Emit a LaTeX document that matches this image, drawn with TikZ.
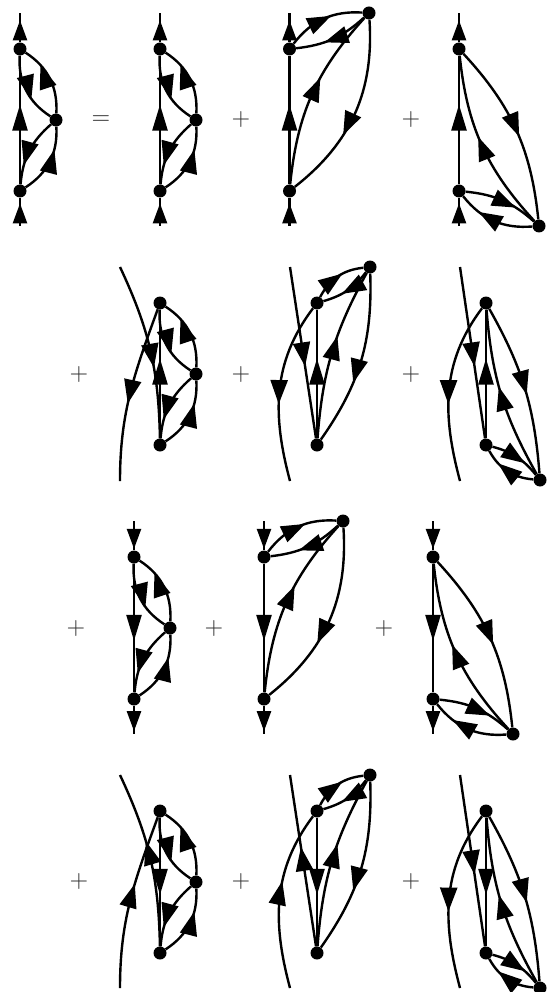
\documentclass[tikz,border=0pt]{standalone}
\usetikzlibrary{arrows.meta,decorations.markings}

\tikzset{
  vertex/.style={circle,fill=black,inner sep=0pt,minimum size=13pt},
  prop/.style={line width=2.4pt},
  turnarr/.style 2 args={postaction={decorate,decoration={markings,mark=at position #1 with {\pgftransformrotate{#2}\arrow{Triangle[length=24pt,width=17pt]}}}}},
  arr/.style={turnarr={#1}{0}},
  bigarr/.style={postaction={decorate,decoration={markings,mark=at position #1 with {\arrow{Triangle[length=26pt,width=15pt]}}}}},
  legarr/.style={postaction={decorate,decoration={markings,mark=at position #1 with {\arrow{Triangle[length=20pt,width=14pt]}}}}},
  sign/.style={scale=2.4,text=black!80}
}

% third vertex at the side
\newcommand{\graphside}[2]{
\node[vertex] (t) at (#1,-#2) {};
\node[vertex] (b) at (#1,-#2-142) {};
\node[vertex] (v) at (#1+36,-#2-71) {};
\draw[prop,turnarr={.64}{-22}] (t) to[bend right=30] (v);
\draw[prop,turnarr={.73}{-24}] (v) to[bend right=30] (t);
\draw[prop,arr=.72] (v) to[bend right=22] (b);
\draw[prop,arr=.68] (b) to[bend right=30] (v);
}
% third vertex above
\newcommand{\graphtop}[3]{
\node[vertex] (t) at (#1,-#2) {};
\node[vertex] (b) at (#1,-#2-142) {};
\node[vertex] (v) at (#1+#3,-#2+36) {};
\draw[prop,turnarr={.6}{8}] (t) to[bend left=28] (v);
\draw[prop,arr=.62] (v) to[bend left=18] (t);
\draw[prop,turnarr={.6}{5}] (b) to[bend left={#3*.23}] (v);
\draw[prop,turnarr={.63}{8}] (v) to[bend left={#3*.35}] (b);
}
% third vertex below
\newcommand{\graphbottom}[3]{
\node[vertex] (t) at (#1,-#2) {};
\node[vertex] (b) at (#1,-#2-142) {};
\node[vertex] (v) at (#1+#3,-#2-177) {};
\draw[prop,arr=.54] (t) to[bend left={#3*.23}] (v);
\draw[prop,arr=.55] (v) to[bend left={#3*.23}] (t);
\draw[prop,turnarr={.7}{8}] (b) to[bend left=18] (v);
\draw[prop,turnarr={.72}{8}] (v) to[bend left=28] (b);
}
% vertical line
\newcommand{\lineup}{\draw[prop,bigarr=.62] (b) -- (t);}
\newcommand{\linedown}{\draw[prop,bigarr=.6] (t) -- (b);}
% straight external line
\newcommand{\legsup}[2]{
\coordinate (in) at (#1,-#2-177);
\coordinate (out) at (#1,-#2+36);
\draw[prop,legarr=.8] (in) -- (b);
\draw[prop,legarr=.75] (t) -- (out);
}
\newcommand{\legsdown}[2]{
\coordinate (in) at (#1,-#2+36);
\coordinate (out) at (#1,-#2-177);
\draw[prop,legarr=.95] (in) -- (t);
\draw[prop,legarr=.9] (b) -- (out);
}

\begin{document}
\begin{tikzpicture}[x=1pt,y=1pt]
\useasboundingbox (0,-992) rectangle (548,0);

% first row
\graphside{20}{49} \lineup \legsup{20}{49}
\node[sign] (eq) at (101,-120) {$=$};
\graphside{160}{49} \lineup \legsup{160}{49}
\node[sign] (p1) at (241,-120) {$+$};
\graphtop{289.5}{49}{79.5} \lineup \legsup{289.5}{49}
\node[sign] (p2) at (411,-120) {$+$};
\graphbottom{459}{49}{80} \lineup \legsup{459}{49}

% second row
\node[sign] (p3) at (79,-374) {$+$};
\graphside{160}{303} \lineup
\coordinate (in) at (120,-267);
\coordinate (out) at (120,-481);
\draw[prop,arr=.6] (in) to[bend left=12] (b);
\draw[prop,arr=.56] (t) to[out=250,in=90] (out);
\node[sign] (p4) at (241,-374) {$+$};
\graphtop{317}{303}{53} \lineup
\coordinate (in) at (290,-267);
\coordinate (out) at (290,-481);
\draw[prop,arr=.58] (in) -- (b);
\draw[prop,arr=.57] (t) to[out=233,in=105] (out);
\node[sign] (p5) at (411,-374) {$+$};
\graphbottom{486}{303}{54} \lineup
\coordinate (in) at (460,-267);
\coordinate (out) at (460,-481);
\draw[prop,arr=.58] (in) -- (b);
\draw[prop,arr=.57] (t) to[out=233,in=105] (out);

% third row
\node[sign] (p6) at (76,-628) {$+$};
\graphside{134}{557} \linedown \legsdown{134}{557}
\node[sign] (p7) at (214,-628) {$+$};
\graphtop{264}{557}{79} \linedown \legsdown{264}{557}
\node[sign] (p8) at (384,-628) {$+$};
\graphbottom{433}{557}{80} \linedown \legsdown{433}{557}

% fourth row
\node[sign] (p9) at (79,-881) {$+$};
\graphside{160}{811} \linedown
\coordinate (in) at (120,-988);
\coordinate (out) at (120,-775);
\draw[prop,arr=.6] (b) to[bend right=12] (out);
\draw[prop,arr=.6] (in) to[out=90,in=250] (t);
\node[sign] (p10) at (241,-881) {$+$};
\graphtop{317}{811}{53} \linedown
\coordinate (in) at (290,-988);
\coordinate (out) at (290,-775);
\draw[prop,arr=.58] (b) -- (out);
\draw[prop,arr=.6] (in) to[out=105,in=233] (t);
\node[sign] (p11) at (411,-881) {$+$};
\graphbottom{486}{811}{54} \linedown
\coordinate (in) at (460,-775);
\coordinate (out) at (460,-988);
\draw[prop,arr=.58] (in) -- (b);
\draw[prop,arr=.57] (t) to[out=233,in=105] (out);
\end{tikzpicture}
\end{document}
